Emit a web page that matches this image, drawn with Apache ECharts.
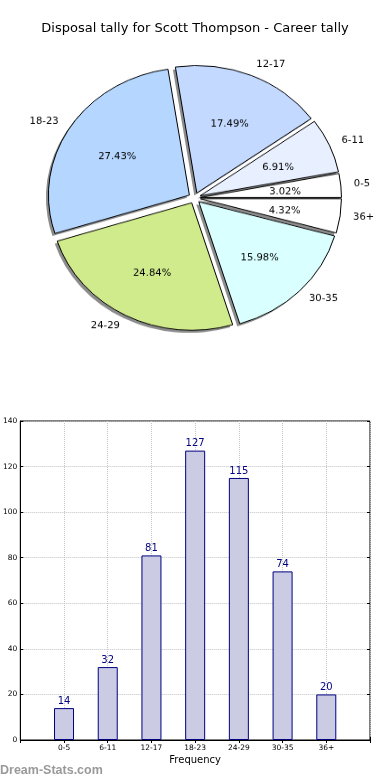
<!DOCTYPE html>
<html><head><meta charset="utf-8">
<script src="https://cdn.jsdelivr.net/npm/echarts@6/dist/echarts.min.js"></script>
<style>
html,body{margin:0;padding:0;background:#fff}
#main{position:absolute;left:0;top:0;width:390px;height:780px}
#pie{position:absolute;left:0;top:0;width:390px;height:400px;transform-origin:0 198px;transform:scaleY(0.904);pointer-events:none}
</style></head><body>
<div id="main"></div><div id="pie"></div>
<script>
const categories = ['0-5','6-11','12-17','18-23','24-29','30-35','36+'];
const tallies = [14,32,81,127,115,74,20];
const yTicks = [0,20,40,60,80,100,120,140];
const titleText = 'Disposal tally for Scott Thompson - Career tally';
const watermark = 'Dream-Stats.com';
const sliceColors = ['#ffffff','#e8efff','#c4d9ff','#b5d6ff','#cfeb8c','#d9ffff','#ffffff'];

const total = tallies.reduce((a,b)=>a+b,0);
const font = 'DejaVu Sans';

// ----- bar chart + title -----
const main = echarts.init(document.getElementById('main'), null, {renderer:'canvas'});
const xData = [''].concat(categories, ['']);
const barData = [null].concat(tallies, [null]);
main.setOption({
  animation:false,
  title:{text:titleText, left:'center', top:22, padding:0,
    textStyle:{fontFamily:font, fontSize:13, fontWeight:'normal', color:'#000'}},
  grid:{left:19, right:20, top:421, bottom:40, show:true, borderColor:'#000', borderWidth:1},
  xAxis:[{
    type:'category', data:xData, boundaryGap:false,
    axisLine:{show:true, lineStyle:{color:'#000'}},
    axisTick:{show:true, inside:true, length:3, interval:0, lineStyle:{color:'#000'}},
    axisLabel:{interval:0, fontSize:7.5, fontFamily:font, color:'#000', margin:4},
    splitLine:{show:true, interval:0, lineStyle:{type:'dotted', color:'#c4c4c4', width:1}},
    name:'Frequency', nameLocation:'middle', nameGap:15,
    nameTextStyle:{fontSize:10, fontFamily:font, color:'#000'}
  },{
    type:'category', data:xData, boundaryGap:false, position:'top',
    axisLine:{show:false}, axisTick:{show:true, inside:true, length:3, interval:0, lineStyle:{color:'#000'}},
    axisLabel:{show:false}, splitLine:{show:false}
  }],
  yAxis:[{
    type:'value', min:yTicks[0], max:yTicks[yTicks.length-1], interval:yTicks[1]-yTicks[0],
    axisLine:{show:true, lineStyle:{color:'#000'}},
    axisTick:{show:true, inside:true, length:3, lineStyle:{color:'#000'}},
    axisLabel:{fontSize:7.5, fontFamily:font, color:'#000', margin:3},
    splitLine:{show:true, lineStyle:{type:'dotted', color:'#c4c4c4', width:1}}
  },{
    type:'value', position:'right', min:yTicks[0], max:yTicks[yTicks.length-1], interval:yTicks[1]-yTicks[0],
    axisLine:{show:false}, axisTick:{show:true, inside:true, length:3, lineStyle:{color:'#000'}},
    axisLabel:{show:false}, splitLine:{show:false}
  }],
  graphic:[{type:'text', left:0, top:764,
    style:{text:watermark, fill:'#9a9a9a', font:'bold 12.5px "Liberation Sans", Arial, sans-serif'}}],
  series:[{
    type:'bar', data:barData, xAxisIndex:0, yAxisIndex:0, barWidth:20,
    itemStyle:{color:'#cbcbe3', borderColor:'#000080', borderWidth:1},
    label:{show:true, position:'top', distance:2, color:'#000080', fontSize:10, fontFamily:font},
    emphasis:{disabled:true}
  }]
});

// ----- pie chart (drawn as circle, squeezed vertically by CSS to match the elliptical original) -----
const pie = echarts.init(document.getElementById('pie'), null, {renderer:'canvas'});
const pieData = categories.map((c,i)=>({name:c, value:tallies[i], selected:true,
  itemStyle:{color:sliceColors[i]}}));
const plainData = categories.map((c,i)=>({name:c, value:tallies[i], selected:true}));
const cx = 194.5, cy = 198;
const common = {type:'pie', startAngle:0, clockwise:false,
  selectedMode:'multiple', selectedOffset:6, avoidLabelOverlap:false, silent:true,
  emphasis:{disabled:true}};
pie.setOption({
  animation:false,
  series:[
    // shadow layer
    Object.assign({}, common, {
      center:[cx-2.5, cy+2.8], radius:[0,141], data:plainData,
      itemStyle:{color:'rgba(0,0,0,0.45)', borderWidth:0},
      select:{itemStyle:{color:'rgba(0,0,0,0.45)', borderWidth:0}},
      label:{show:false}, labelLine:{show:false}
    }),
    Object.assign({}, common, {
      center:[cx, cy], radius:[0,141], data:pieData,
      itemStyle:{borderColor:'#000', borderWidth:1},
      select:{itemStyle:{borderColor:'#000', borderWidth:1}},
      label:{show:true, position:'outside', formatter:'{b}', fontSize:10, fontFamily:font, color:'#000', distanceToLabelLine:0, alignTo:'none', offset:[-1,2.8]},
      labelLine:{show:false, length:13, length2:0}
    }),
    Object.assign({}, common, {
      center:[cx, cy+2.5], radius:[0,164], data:plainData,
      itemStyle:{color:'rgba(0,0,0,0)', borderWidth:0},
      select:{itemStyle:{color:'rgba(0,0,0,0)', borderWidth:0}},
      label:{show:true, position:'inside', fontSize:10, fontFamily:font, color:'#000',
        formatter:p=>(p.value/total*100).toFixed(2)+'%'},
      labelLine:{show:false}
    })
  ]
});
</script>
</body></html>
